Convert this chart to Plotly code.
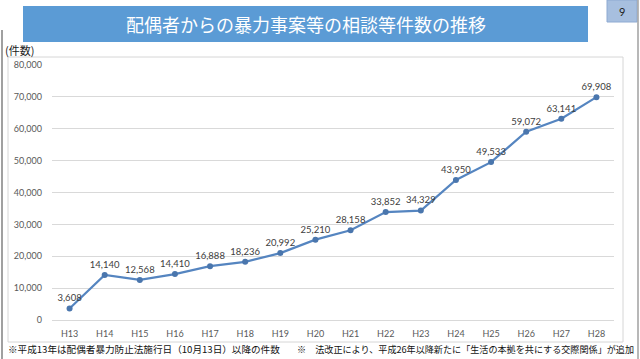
import plotly.graph_objects as go

categories = ["H13", "H14", "H15", "H16", "H17", "H18", "H19", "H20",
              "H21", "H22", "H23", "H24", "H25", "H26", "H27", "H28"]
counts = [3608, 14140, 12568, 14410, 16888, 18236, 20992, 25210,
          28158, 33852, 34329, 43950, 49533, 59072, 63141, 69908]
y_ticks = [0, 10000, 20000, 30000, 40000, 50000, 60000, 70000, 80000]
title_text = "配偶者からの暴力事案等の相談等件数の推移"
unit_text = "(件数)"
page_no = "9"
note_left = "※平成13年は配偶者暴力防止法施行日（10月13日）以降の件数"
note_right = "※　法改正により、平成26年以降新たに「生活の本拠を共にする交際関係」が追加"

JP = "Noto Sans CJK JP"
NUM = "Lato, 'Open Sans', sans-serif"
LBL = "'Liberation Sans Narrow', Lato, sans-serif"

W, H = 640, 359
L, R, T, B = 52, 614, 65, 320


def px(x):
    return (x - L) / (R - L)


def py(y):
    return (B - y) / (B - T)


fig = go.Figure()
fig.add_trace(go.Scatter(
    x=categories, y=counts, mode="lines+markers+text",
    line=dict(color="#5585c0", width=2.2),
    marker=dict(color="#4a76ad", size=6),
    text=[f"{v:,}" for v in counts],
    textposition="top center",
    textfont=dict(family=LBL, size=9.5, color="#404040"),
    hoverinfo="skip", cliponaxis=False,
))

shapes = [
    # chart border
    dict(type="rect", xref="paper", yref="paper", x0=px(8), x1=px(623), y0=py(342), y1=py(57),
         line=dict(color="#d6d6d6", width=1), fillcolor="rgba(0,0,0,0)", layer="below"),
    # title bar
    dict(type="rect", xref="paper", yref="paper", x0=px(23), x1=px(588), y0=py(42), y1=py(6),
         line=dict(width=0), fillcolor="#5b9bd5"),
    # page number box
    dict(type="rect", xref="paper", yref="paper", x0=px(607), x1=px(637), y0=py(22), y1=py(0),
         line=dict(color="#8eaad2", width=1), fillcolor="#a7bfdf"),
    # page frame lines
    dict(type="line", xref="paper", yref="paper", x0=px(2), x1=px(2), y0=py(359), y1=py(30),
         line=dict(color="#a0a0a0", width=2)),
    dict(type="line", xref="paper", yref="paper", x0=px(638), x1=px(638), y0=py(359), y1=py(0),
         line=dict(color="#a0a0a0", width=1.5)),
]

annotations = [
    dict(text=title_text, x=px(306), y=py(24), xref="paper", yref="paper", showarrow=False,
         xanchor="center", yanchor="middle", font=dict(family=JP, size=18, color="white")),
    dict(text=page_no, x=px(622), y=py(11), xref="paper", yref="paper", showarrow=False,
         xanchor="center", yanchor="middle", font=dict(family=NUM, size=11, color="#222222")),
    dict(text=unit_text, x=px(3), y=py(50), xref="paper", yref="paper", showarrow=False,
         xanchor="left", yanchor="middle", font=dict(family=JP, size=11, color="#222222")),
    dict(text=note_left, x=px(6), y=py(349), xref="paper", yref="paper", showarrow=False,
         xanchor="left", yanchor="middle", font=dict(family=JP, size=9.6, color="#111111")),
    dict(text=note_right, x=px(295), y=py(349), xref="paper", yref="paper", showarrow=False,
         xanchor="left", yanchor="middle", font=dict(family=JP, size=9.1, color="#111111")),
]

fig.update_layout(
    width=W, height=H,
    margin=dict(l=L, r=W - R, t=T, b=H - B, pad=0),
    paper_bgcolor="white", plot_bgcolor="white",
    showlegend=False,
    shapes=shapes, annotations=annotations,
    xaxis=dict(range=[-0.5, 15.5], showgrid=False, showline=True, linecolor="#d9d9d9",
               linewidth=1, ticks="", ticklabelstandoff=5,
               tickfont=dict(family=NUM, size=9, color="#595959"), fixedrange=True),
    yaxis=dict(range=[0, 80000], tickvals=y_ticks, ticktext=[f"{v:,}" for v in y_ticks],
               showgrid=True, gridcolor="#d9d9d9", gridwidth=1, zeroline=False,
               showline=False, ticks="", ticklabelstandoff=9,
               tickfont=dict(family=NUM, size=9, color="#595959"), fixedrange=True),
)

fig.write_html("out.html", config={"displayModeBar": False},
               post_script="document.body.style.margin='0';document.body.style.overflow='hidden';")
